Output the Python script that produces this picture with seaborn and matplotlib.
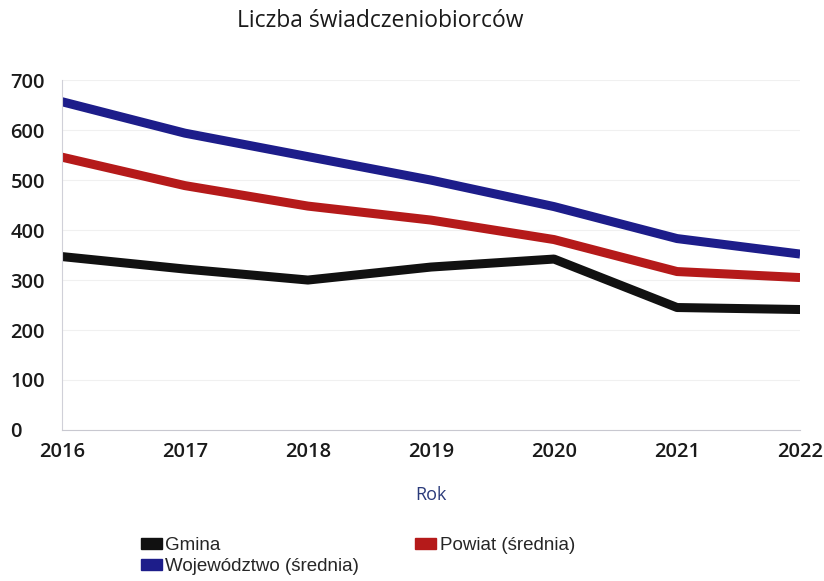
import pandas as pd
import matplotlib.pyplot as plt
import seaborn as sns
from matplotlib.patches import Patch

# --- Dane ---
lata = [2016, 2017, 2018, 2019, 2020, 2021, 2022]
gmina = [347, 322, 300, 326, 342, 245, 241]
powiat = [546, 489, 448, 420, 381, 317, 305]
wojewodztwo = [657, 594, 547, 500, 447, 383, 352]

serie = ['Gmina', 'Powiat (średnia)', 'Województwo (średnia)']
kolory = {'Gmina': '#111111', 'Powiat (średnia)': '#b51a1a', 'Województwo (średnia)': '#1d1d8a'}

df = pd.DataFrame({
    'Rok': lata * 3,
    'Wartość': gmina + powiat + wojewodztwo,
    'Seria': [serie[0]] * 7 + [serie[1]] * 7 + [serie[2]] * 7,
})

sns.set_style("white")
plt.rcParams['font.family'] = ['Open Sans', 'DejaVu Sans']

fig = plt.figure(figsize=(8.24, 5.81), dpi=100)
ax = fig.add_axes([0.075, 0.26, 0.896, 0.602])

sns.lineplot(data=df, x='Rok', y='Wartość', hue='Seria', hue_order=serie,
             palette=kolory, linewidth=6.5, legend=False, ax=ax,
             solid_joinstyle='round', solid_capstyle='butt')

ax.set_xlim(2016, 2022)
ax.set_ylim(0, 700)
ax.set_yticks(range(0, 701, 100))
ax.set_xticks(lata)
ax.grid(axis='y', color='#f0f0f0', linewidth=0.8)
for s in ['top', 'right']:
    ax.spines[s].set_visible(False)
ax.spines['left'].set_color('#d0d0d8')
ax.spines['bottom'].set_color('#c8c8d0')
ax.tick_params(axis='both', length=0, labelsize=14.5, colors='#1a1a1a')
for lab in ax.get_xticklabels() + ax.get_yticklabels():
    lab.set_fontweight('semibold')
ax.tick_params(axis='y', pad=37)
ax.tick_params(axis='x', pad=9)
for lab in ax.get_yticklabels():
    lab.set_horizontalalignment('left')
ax.set_ylabel('')
ax.set_xlabel('Rok', fontsize=13, color='#2a3a7a', labelpad=17)

fig.text(0.462, 0.963, 'Liczba świadczeniobiorców', ha='center', va='center',
         fontsize=16.5, color='#1a1a1a')

uchwyty = [Patch(color=kolory['Gmina']), Patch(color=kolory['Województwo (średnia)']),
           Patch(color=kolory['Powiat (średnia)'])]
etykiety = ['Gmina', 'Województwo (średnia)', 'Powiat (średnia)']
fig.legend(uchwyty, etykiety, ncol=2, loc='upper left', bbox_to_anchor=(0.162, 0.088),
           frameon=False, handlelength=1.1, handleheight=0.5,
           handletextpad=0.2, columnspacing=3.0, labelspacing=0.2, borderaxespad=0,
           prop={'family': ['Liberation Sans'], 'size': 13.5})

fig.savefig('out.png', dpi=100)
